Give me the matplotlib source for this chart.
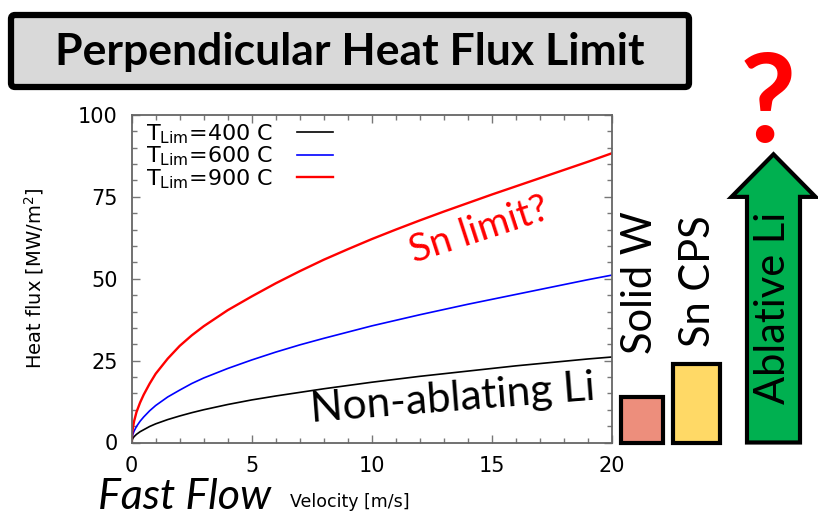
import matplotlib
matplotlib.use("Agg")
import matplotlib.pyplot as plt
from matplotlib.patches import FancyBboxPatch, FancyArrow
from matplotlib.ticker import MultipleLocator

# velocity [m/s] and heat flux limit [MW/m2]
velocity = [0, 0.02, 0.05, 0.1, 0.2, 0.35, 0.5, 0.75, 1, 1.5, 2, 2.5, 3, 4, 5, 6, 7, 8, 9, 10,
            11, 12, 13, 14, 15, 16, 17, 18, 19, 20]
flux_400 = [0, 0.8, 1.3, 1.8, 2.5, 3.3, 3.9, 4.9, 5.7, 7.0, 8.1, 9.1, 10.0, 11.6, 13.0, 14.2,
            15.3, 16.4, 17.4, 18.4, 19.3, 20.2, 21.0, 21.8, 22.6, 23.4, 24.1, 24.8, 25.5, 26.1]
flux_600 = [0, 1.6, 2.5, 3.5, 4.9, 6.5, 7.8, 9.7, 11.3, 13.9, 16.0, 18.0, 19.7, 22.6, 25.2, 27.6,
            29.8, 31.8, 33.7, 35.6, 37.3, 39.0, 40.6, 42.2, 43.7, 45.2, 46.7, 48.2, 49.7, 51.1]
flux_900 = [0, 2.8, 4.5, 6.5, 9.3, 12.2, 14.6, 18.0, 21.0, 25.6, 29.5, 32.7, 35.5, 40.4, 44.6,
            48.6, 52.3, 55.8, 59.0, 62.1, 65.0, 67.8, 70.5, 73.1, 75.7, 78.2, 80.7, 83.2, 85.7, 88.3]
series_labels = [r"$\mathregular{T_{Lim}}$=400 C", r"$\mathregular{T_{Lim}}$=600 C",
                 r"$\mathregular{T_{Lim}}$=900 C"]

# schematic limits on the right (same MW/m2 scale)
concept_names = ["Solid W", "Sn CPS"]
concept_limits = [14, 24]
ablative_limit = 88

W, H = 818, 515
fig = plt.figure(figsize=(W / 100, H / 100), dpi=100)

ax = fig.add_axes([131.7 / W, 72.5 / H, 480 / W, 327.5 / H])
ax.plot(velocity, flux_400, color="black", lw=1.2, label=series_labels[0])
ax.plot(velocity, flux_600, color="#0000ff", lw=1.2, label=series_labels[1])
ax.plot(velocity, flux_900, color="#ff0000", lw=1.7, label=series_labels[2])
ax.set_xlim(0, 20)
ax.set_ylim(0, 100)
ax.set_xticks([0, 5, 10, 15, 20])
ax.set_yticks([0, 25, 50, 75, 100])
ax.xaxis.set_minor_locator(MultipleLocator(1))
ax.yaxis.set_minor_locator(MultipleLocator(5))
ax.tick_params(which="both", direction="in", top=True, right=True, color="#777777", width=1)
ax.tick_params(which="major", length=6, labelsize=15, pad=10)
ax.tick_params(which="minor", length=3.5)
for sp in ax.spines.values():
    sp.set_color("#666666")
    sp.set_linewidth(1.3)
ax.set_xlabel("Velocity [m/s]", fontsize=12.5)
ax.xaxis.set_label_coords(0.455, -0.155)
ax.set_ylabel(r"Heat flux [MW/m$^2$]", fontsize=14)
ax.yaxis.set_label_coords(-0.178, 0.5)
ax.legend(loc="upper left", bbox_to_anchor=(0.025, 0.985), frameon=False, markerfirst=False,
          fontsize=16, handlelength=1.6, handletextpad=1.1, labelspacing=-0.05,
          borderaxespad=0, borderpad=0.1)

# right-hand schematic bars
sch = fig.add_axes([615 / W, 72.5 / H, 203 / W, 327.5 / H])
sch.set_xlim(0, 203)
sch.set_ylim(0, 100)
sch.axis("off")
sch.bar([27, 81.5], concept_limits, width=[42, 47], color=["#ED8E7C", "#FFD966"],
        edgecolor="black", linewidth=3, clip_on=False)
sch.add_patch(FancyArrow(158.5, 0, 0, ablative_limit, width=53, head_width=84, head_length=13,
                         length_includes_head=True, fc="#00B050", ec="black", lw=3,
                         joinstyle="miter", clip_on=False))

# overlay in pixel coordinates for the annotations
ov = fig.add_axes([0, 0, 1, 1])
ov.set_xlim(0, W)
ov.set_ylim(H, 0)
ov.axis("off")
ov.patch.set_alpha(0)
ov.add_patch(FancyBboxPatch((11, 15), 678, 72, boxstyle="round,pad=0,rounding_size=4",
                            fc="#D9D9D9", ec="black", lw=4.5))
font = "Lato"
ov.text(350, 52, "Perpendicular Heat Flux Limit", fontsize=32, fontweight="bold",
        family=font, ha="center", va="center")
ov.text(479, 230, "Sn limit?", fontsize=28, color="#ff0000", family=font,
        rotation=18, ha="center", va="center")
ov.text(453, 399, "Non-ablating Li", fontsize=30.5, family=font, rotation=4.5,
        ha="center", va="center")
ov.text(185, 509, "Fast Flow", fontsize=31, style="italic", family=font,
        ha="center", va="baseline")
ov.text(640, 283, "Solid W", fontsize=30, family=font, rotation=90, ha="center", va="center")
ov.text(698, 281, "Sn CPS", fontsize=30, family=font, rotation=90, ha="center", va="center")
ov.text(773, 308, "Ablative Li", fontsize=30, family=font, rotation=90, ha="center", va="center")
ov.text(768, 142, "?", fontsize=88, fontweight="bold", color="#ff0000", family=font,
        ha="center", va="baseline")

fig.savefig("out.png", dpi=100)
